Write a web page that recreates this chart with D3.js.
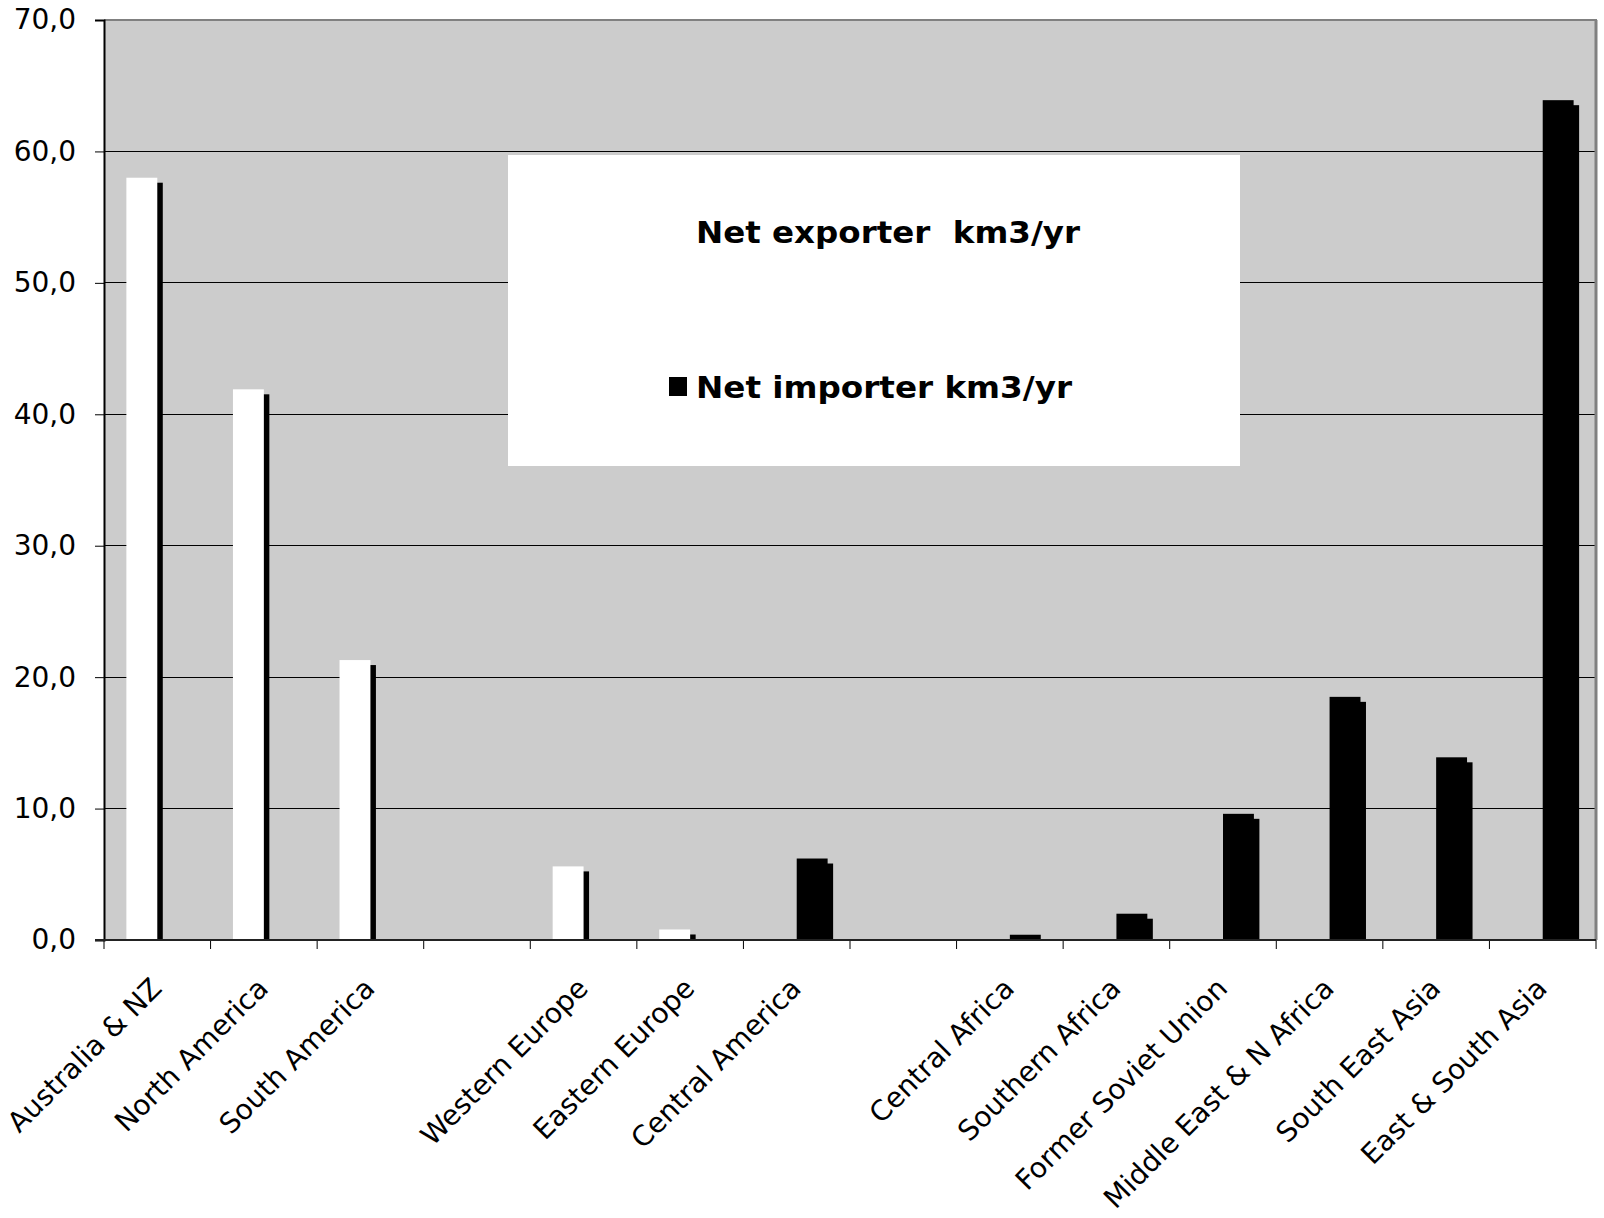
<!DOCTYPE html>
<html>
<head>
<meta charset="utf-8">
<script src="https://cdn.jsdelivr.net/npm/d3@7"></script>
<style>
  html, body { margin: 0; padding: 0; background: #ffffff; }
  svg { display: block; }
  text { font-family: "DejaVu Sans", Verdana, sans-serif; fill: #000; }
</style>
</head>
<body>
<svg id="chart" width="1604" height="1218"></svg>
<script>
// Regions, in axis order (two empty slots separate the groups)
const categories = [
  "Australia & NZ", "North America", "South America", "",
  "Western Europe", "Eastern Europe", "Central America", "",
  "Central Africa", "Southern Africa", "Former Soviet Union",
  "Middle East & N Africa", "South East Asia", "East & South Asia"
];
// Net virtual water flows, km3/yr
const exporter = [58.0, 41.9, 21.3, 0, 5.6, 0.8, 0, 0, 0, 0, 0, 0, 0, 0];
const importer = [0, 0, 0, 0, 0, 0, 6.2, 0, 0.4, 2.0, 9.6, 18.5, 13.9, 63.9];
const seriesNames = ["Net exporter  km3/yr", "Net importer km3/yr"];
const seriesColors = ["#ffffff", "#000000"];
const yTicks = [0, 10, 20, 30, 40, 50, 60, 70];

const svg = d3.select("#chart");
const plot = { left: 104, right: 1596, top: 20, bottom: 940 };

const x0 = d3.scaleBand()
  .domain(d3.range(categories.length))
  .range([plot.left, plot.right])
  .padding(0);
const groupW = x0.bandwidth() * 0.58;
const x1 = d3.scaleBand()
  .domain([0, 1])
  .range([(x0.bandwidth() - groupW) / 2, (x0.bandwidth() + groupW) / 2]);
const y = d3.scaleLinear().domain([0, 70]).range([plot.bottom, plot.top]);

const locale = d3.formatLocale({ decimal: ",", thousands: ".", grouping: [3], currency: ["", ""] });
const fmt = locale.format(".1f");

// plot area
svg.append("rect")
  .attr("x", plot.left).attr("y", plot.top)
  .attr("width", plot.right - plot.left).attr("height", plot.bottom - plot.top)
  .attr("fill", "#cccccc");

// horizontal gridlines
svg.append("g").selectAll("line")
  .data(yTicks.filter(t => t > 0 && t < 70))
  .join("line")
  .attr("x1", plot.left).attr("x2", plot.right)
  .attr("y1", d => y(d)).attr("y2", d => y(d))
  .attr("stroke", "#000").attr("stroke-width", 1)
  .attr("shape-rendering", "crispEdges");

// frame: top and right edges
svg.append("line")
  .attr("x1", plot.left).attr("x2", plot.right + 1)
  .attr("y1", plot.top).attr("y2", plot.top)
  .attr("stroke", "#808080").attr("stroke-width", 2);
svg.append("line")
  .attr("x1", plot.right).attr("x2", plot.right)
  .attr("y1", plot.top).attr("y2", plot.bottom)
  .attr("stroke", "#808080").attr("stroke-width", 3);

// legend box
const legend = svg.append("g");
legend.append("rect")
  .attr("x", 508).attr("y", 155).attr("width", 732).attr("height", 311)
  .attr("fill", "#ffffff");
const legendRows = [243, 398];
const legendWidths = [384, 376];
seriesNames.forEach((name, i) => {
  legend.append("rect")
    .attr("x", 669).attr("y", legendRows[i] - 21).attr("width", 18).attr("height", 19)
    .attr("fill", seriesColors[i]);
  legend.append("text")
    .attr("x", 696).attr("y", legendRows[i])
    .attr("textLength", legendWidths[i])
    .attr("lengthAdjust", "spacingAndGlyphs")
    .style("font-size", "30px").style("font-weight", "bold").style("white-space", "pre")
    .text(name);
});

// bars with drop shadow
const rows = categories.map((c, i) => ({ i, vals: [exporter[i], importer[i]] }));
const barData = [];
rows.forEach(r => r.vals.forEach((v, k) => { if (v > 0) barData.push({ i: r.i, k, v }); }));
const dx = 5.5, dy = 5;

const bars = svg.append("g");
bars.selectAll("rect.shadow")
  .data(barData)
  .join("rect")
  .attr("class", "shadow")
  .attr("x", d => x0(d.i) + x1(d.k) + dx)
  .attr("y", d => Math.min(y(d.v) + dy, y(0)))
  .attr("width", x1.bandwidth())
  .attr("height", d => Math.max(0, y(0) - y(d.v) - dy))
  .attr("fill", "#000");
bars.selectAll("rect.bar")
  .data(barData)
  .join("rect")
  .attr("class", "bar")
  .attr("x", d => x0(d.i) + x1(d.k))
  .attr("y", d => y(d.v))
  .attr("width", x1.bandwidth())
  .attr("height", d => y(0) - y(d.v))
  .attr("fill", d => seriesColors[d.k]);

// y axis
const yAxis = svg.append("g")
  .attr("transform", `translate(${plot.left},0)`)
  .call(d3.axisLeft(y).tickValues(yTicks).tickFormat(fmt).tickSize(9).tickPadding(19));
yAxis.select(".domain").attr("stroke", "#000").attr("stroke-width", 2);
yAxis.selectAll(".tick line").attr("stroke", "#000");
yAxis.selectAll("text").style("font-size", "28px").style("font-family", "'DejaVu Sans', Verdana, sans-serif");

// x axis: labels at band centres, ticks at band boundaries
const xAxis = svg.append("g")
  .attr("transform", `translate(0,${plot.bottom})`)
  .call(d3.axisBottom(x0).tickSize(0).tickFormat(i => categories[i]));
xAxis.select(".domain").remove();
xAxis.selectAll("text")
  .attr("x", 0).attr("y", 0).attr("dy", 0)
  .attr("transform", "translate(6,50) rotate(-45)")
  .style("text-anchor", "end")
  .style("font-size", "28px")
  .style("font-family", "'DejaVu Sans', Verdana, sans-serif");

const edges = d3.range(categories.length).map(i => x0(i)).concat([plot.right]);
svg.append("g").selectAll("line")
  .data(edges)
  .join("line")
  .attr("x1", d => d).attr("x2", d => d)
  .attr("y1", plot.bottom).attr("y2", plot.bottom + 9)
  .attr("stroke", "#000").attr("stroke-width", 1);
svg.append("line")
  .attr("x1", plot.left - 9).attr("x2", plot.right)
  .attr("y1", plot.bottom).attr("y2", plot.bottom)
  .attr("stroke", "#222").attr("stroke-width", 2);
</script>
</body>
</html>
